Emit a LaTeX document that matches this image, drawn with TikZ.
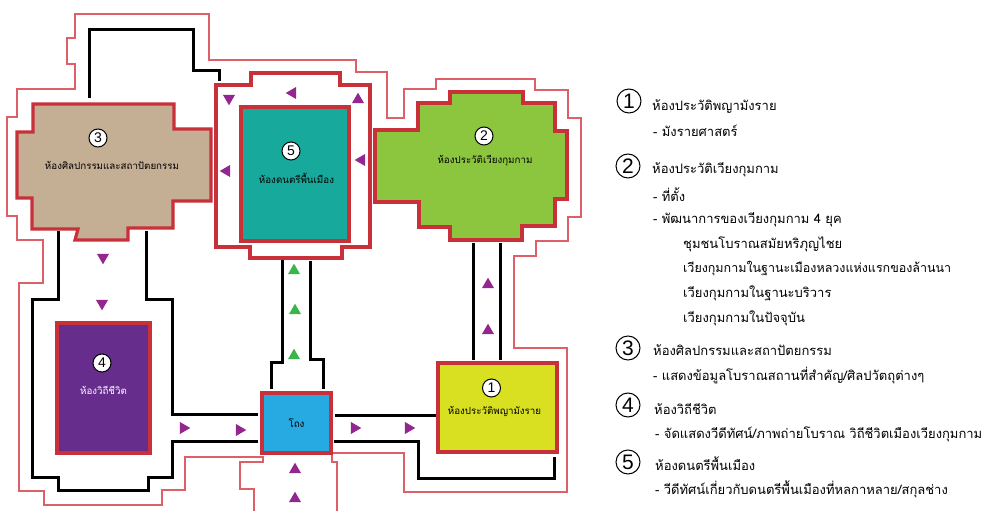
\documentclass[tikz,border=0pt]{standalone}
\usepackage{fontspec}
\usepackage{tikz}
\usetikzlibrary{shapes.geometric}
\newfontfamily\thaifont[Script=Thai]{Loma}
\setsansfont{Liberation Sans}
\definecolor{wallred}{HTML}{C8303A}
\definecolor{outerred}{HTML}{DE5F68}
\definecolor{triviolet}{HTML}{93278F}
\definecolor{trigreen}{HTML}{39B54A}
\definecolor{roomone}{HTML}{D9E021}
\definecolor{roomtwo}{HTML}{8CC63F}
\definecolor{roomthree}{HTML}{C4AE94}
\definecolor{roomfour}{HTML}{662D8C}
\definecolor{roomfive}{HTML}{17A99B}
\definecolor{roomlobby}{HTML}{27A9E1}
\tikzset{
	room/.style={draw=wallred,line width=3.2pt,line join=miter},
	wall/.style={draw=black,line width=3pt,line join=miter},
	outer/.style={draw=outerred,line width=1.2pt},
	roomlabel/.style={font=\thaifont\fontsize{9.75}{11}\selectfont,inner sep=0pt},
	roomnum/.style={shape=circle,draw=black,fill=white,line width=1pt,minimum size=18pt,inner sep=0pt,font=\sffamily\fontsize{14}{14}\selectfont},
	legendnum/.style={shape=circle,draw=black,line width=1pt,minimum size=24pt,inner sep=0pt,font=\sffamily\fontsize{21}{21}\selectfont},
	legendtext/.style={anchor=west,font=\thaifont\fontsize{13}{15}\selectfont,inner sep=0pt},
	tri/.style={shape=regular polygon,regular polygon sides=3,minimum size=14pt,inner sep=0pt,fill=triviolet},
	triup/.style={tri,yshift=-1.7pt},
	tridown/.style={tri,shape border rotate=180,yshift=1.7pt},
	trileft/.style={tri,shape border rotate=90,xshift=1.7pt},
	triright/.style={tri,shape border rotate=270,xshift=-1.7pt},
}
\begin{document}
\begin{tikzpicture}[x=1pt,y=-1pt]
	\useasboundingbox (0,0) rectangle (986,511);

	\draw[outer] (254,511) -- (254,489) -- (240,489) -- (240,462) -- (263,462) -- (263,457) -- (185,457) -- (185,490) -- (162,490) -- (162,505) -- (44,505) -- (44,491) -- (19,491) -- (19,283) -- (43,283) -- (43,240) -- (17,240) -- (17,216) -- (7,216) -- (7,117) -- (17,117) -- (17,89) -- (75,89) -- (75,64) -- (67,64) -- (67,38) -- (75,38) -- (75,14) -- (209,14) -- (209,60) -- (356,60) -- (356,72) -- (387,72) -- (387,118) -- (404,118) -- (404,89) -- (436,89) -- (436,79) -- (535,79) -- (535,90) -- (568,90) -- (568,118) -- (581,118) -- (581,217) -- (568,217) -- (568,241) -- (536,241) -- (536,256) -- (514,256) -- (514,348) -- (567,348) -- (567,492) -- (404,492) -- (404,453) -- (332,453) -- (332,462) -- (337,462) -- (337,511);

	\draw[wall] (89,98) -- (89,30) -- (193,30) -- (193,71) -- (219,71) -- (219,81);
	\draw[wall] (58,231) -- (58,299) -- (32,299) -- (32,477) -- (58,477) -- (58,490) -- (148,490) -- (148,477) -- (172,477) -- (172,441) -- (258,441);
	\draw[wall] (146,231) -- (146,299) -- (172,299) -- (172,414) -- (258,414);
	\draw[wall] (282,259) -- (282,362) -- (271,362) -- (271,389);
	\draw[wall] (310,261) -- (310,359) -- (323,359) -- (323,389);
	\draw[wall] (335,415) -- (436,415);
	\draw[wall] (334,441) -- (418,441) -- (418,478) -- (554,478) -- (554,457);
	\draw[wall] (473,243) -- (473,360);
	\draw[wall] (500,243) -- (500,360);

	\draw[room,fill=roomthree] (33,104) -- (174,104) -- (174,129) -- (211,129) -- (211,201) -- (173,201) -- (173,228) -- (128,228) -- (128,240) -- (75,240) -- (78,229) -- (32,229) -- (32,198) -- (17,198) -- (17,132) -- (33,132) -- cycle;
	\draw[room] (216,85) -- (251,85) -- (251,73) -- (340,73) -- (340,85) -- (370,85) -- (370,247) -- (342,247) -- (342,258) -- (250,258) -- (250,247) -- (216,247) -- cycle;
	\draw[room,fill=roomtwo] (375,130) -- (418,130) -- (418,103) -- (450,103) -- (450,92) -- (523,92) -- (523,103) -- (555,103) -- (555,131) -- (567,131) -- (567,199) -- (555,199) -- (555,226) -- (522,226) -- (522,240) -- (450,240) -- (450,227) -- (419,227) -- (419,202) -- (375,202) -- cycle;
	\node[room,fill=roomfive,minimum width=108pt,minimum height=134pt] (room5) at (295,174) {};
	\node[room,fill=roomfour,minimum width=93pt,minimum height=130pt] (room4) at (103.5,388) {};
	\node[room,fill=roomone,minimum width=119pt,minimum height=89pt] (room1) at (497.5,407.5) {};
	\node[room,fill=roomlobby,minimum width=69pt,minimum height=60pt,font=\thaifont\fontsize{9.75}{11}\selectfont] (lobby) at (296.5,423) {โถง};

	\node[roomnum] (num1) at (491.5,388) {1};
	\node[roomnum] (num2) at (484,136) {2};
	\node[roomnum] (num3) at (98,138) {3};
	\node[roomnum] (num4) at (102,363) {4};
	\node[roomnum] (num5) at (291,151) {5};
	\node[roomlabel] (label1) at (494.5,412) {ห้องประวัติพญามังราย};
	\node[roomlabel] (label2) at (485,161) {ห้องประวัติเวียงกุมกาม};
	\node[roomlabel] (label3) at (112,165) {ห้องศิลปกรรมและสถาปัตยกรรม};
	\node[roomlabel,text=white] (label4) at (103.5,390) {ห้องวิถีชีวิต};
	\node[roomlabel] (label5) at (296.5,178) {ห้องดนตรีพื้นเมือง};

	\node[tridown] (t1) at (229,100) {};
	\node[tridown] (t2) at (103,259) {};
	\node[tridown] (t3) at (102,305) {};
	\node[trileft] (t4) at (291,93) {};
	\node[trileft] (t5) at (225,171) {};
	\node[trileft] (t6) at (360,160) {};
	\node[triup] (t7) at (358,98) {};
	\node[triup] (t8) at (488,283) {};
	\node[triup] (t9) at (488,329) {};
	\node[triup] (t10) at (295,468) {};
	\node[triup] (t11) at (295,497) {};
	\node[triup,fill=trigreen] (t12) at (294,269) {};
	\node[triup,fill=trigreen] (t13) at (295,309) {};
	\node[triup,fill=trigreen] (t14) at (294,354) {};
	\node[triright] (t15) at (185,428) {};
	\node[triright] (t16) at (241,430) {};
	\node[triright] (t17) at (356,428) {};
	\node[triright] (t18) at (410,428) {};

	\node[legendnum] (key1) at (629,101) {1};
	\node[legendnum] (key2) at (628,166) {2};
	\node[legendnum] (key3) at (628,348) {3};
	\node[legendnum] (key4) at (628,405) {4};
	\node[legendnum] (key5) at (628,462) {5};
	\node[legendtext] (line1) at (652,107) {ห้องประวัติพญามังราย};
	\node[legendtext] (line2) at (653,131) {- มังรายศาสตร์};
	\node[legendtext] (line3) at (652,170) {ห้องประวัติเวียงกุมกาม};
	\node[legendtext] (line4) at (653,195) {- ที่ตั้ง};
	\node[legendtext] (line5) at (653,220) {- พัฒนาการของเวียงกุมกาม 4 ยุค};
	\node[legendtext] (line6) at (683,244) {ชุมชนโบราณสมัยหริภุญไชย};
	\node[legendtext,font=\thaifont\fontsize{12.5}{14}\selectfont] (line7) at (683,269) {เวียงกุมกามในฐานะเมืองหลวงแห่งแรกของล้านนา};
	\node[legendtext] (line8) at (683,293) {เวียงกุมกามในฐานะบริวาร};
	\node[legendtext] (line9) at (683,318) {เวียงกุมกามในปัจจุบัน};
	\node[legendtext] (line10) at (653,350) {ห้องศิลปกรรมและสถาปัตยกรรม};
	\node[legendtext] (line11) at (653,376) {- แสดงข้อมูลโบราณสถานที่สำคัญ/ศิลปวัตถุต่างๆ};
	\node[legendtext] (line12) at (654,409) {ห้องวิถีชีวิต};
	\node[legendtext] (line13) at (655,434) {- จัดแสดงวีดีทัศน์/ภาพถ่ายโบราณ วิถีชีวิตเมืองเวียงกุมกาม};
	\node[legendtext] (line14) at (655,464) {ห้องดนตรีพื้นเมือง};
	\node[legendtext] (line15) at (655,489) {- วีดีทัศน์เกี่ยวกับดนตรีพื้นเมืองที่หลกาหลาย/สกุลช่าง};
\end{tikzpicture}
\end{document}
